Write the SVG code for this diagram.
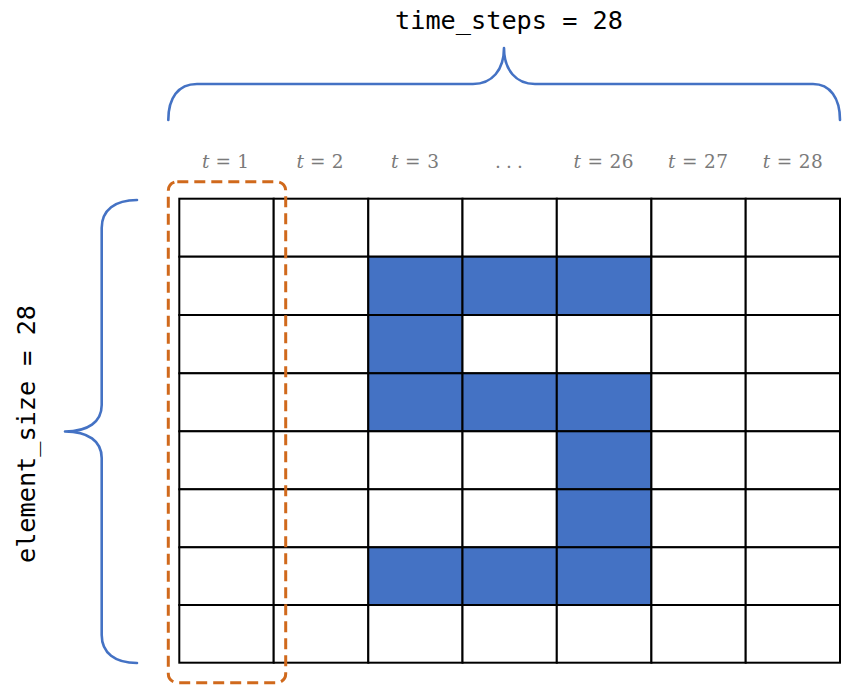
<svg xmlns="http://www.w3.org/2000/svg" width="852" height="700" viewBox="0 0 852 700">
  <style>
    .mono { font-family: "DejaVu Sans Mono", "Liberation Mono", monospace; font-size: 24px; fill: #000; }
    .tl { font-family: "DejaVu Serif", "Liberation Serif", serif; font-size: 18.5px; fill: #7a7a7a; text-anchor: middle; }
    .tl .v { font-style: italic; }
    .brace { fill: none; stroke: #4472C4; stroke-width: 2.6; stroke-linecap: round; stroke-linejoin: round; }
    .cell { fill: #ffffff; stroke: #000; stroke-width: 2; }
    .on { fill: #4472C4; }
    .sel { fill: none; stroke: #D0691C; stroke-width: 3; stroke-dasharray: 11 6; }
  </style>
  <rect width="852" height="700" fill="#ffffff"/>

  <g id="top-brace">
    <path class="brace" d="M168.3,120 C168.3,98 178,84 197,84 L473,84 C492,84 504,70 504,48 C504,70 516,84 535,84 L813,84 C830,84 840,98 840,120"/>
    <text class="mono" x="509" y="29" text-anchor="middle" textLength="228" lengthAdjust="spacingAndGlyphs">time_steps = 28</text>
  </g>

  <g id="left-brace">
    <path class="brace" d="M137,200 C115,200 101.7,210 101.7,228 L101.7,405 C101.7,422 88,431.5 65,431.5 C88,431.5 101.7,441 101.7,458 L101.7,635 C101.7,653 115,663 137,663"/>
    <text class="mono" transform="translate(35,434) rotate(-90)" x="0" y="0" text-anchor="middle" textLength="258" lengthAdjust="spacingAndGlyphs">element_size = 28</text>
  </g>

  <g id="labels">
    <text class="tl" x="225.5" y="168" textLength="47" lengthAdjust="spacing"><tspan class="v">t</tspan> = 1</text>
    <text class="tl" x="320" y="168" textLength="47" lengthAdjust="spacing"><tspan class="v">t</tspan> = 2</text>
    <text class="tl" x="415" y="168" textLength="48" lengthAdjust="spacing"><tspan class="v">t</tspan> = 3</text>
    <text class="tl" x="509" y="168" textLength="28" lengthAdjust="spacing">. . .</text>
    <text class="tl" x="603.5" y="168" textLength="60" lengthAdjust="spacing"><tspan class="v">t</tspan> = 26</text>
    <text class="tl" x="698" y="168" textLength="60" lengthAdjust="spacing"><tspan class="v">t</tspan> = 27</text>
    <text class="tl" x="792.7" y="168" textLength="60" lengthAdjust="spacing"><tspan class="v">t</tspan> = 28</text>
  </g>

  <g id="grid">
    <!-- row 0 -->
    <rect class="cell" x="179.3" y="198.7" width="94.4" height="58"/>
    <rect class="cell" x="273.7" y="198.7" width="94.6" height="58"/>
    <rect class="cell" x="368.3" y="198.7" width="94.2" height="58"/>
    <rect class="cell" x="462.5" y="198.7" width="94.3" height="58"/>
    <rect class="cell" x="556.8" y="198.7" width="94.6" height="58"/>
    <rect class="cell" x="651.4" y="198.7" width="94.3" height="58"/>
    <rect class="cell" x="745.7" y="198.7" width="94.3" height="58"/>
    <!-- row 1 -->
    <rect class="cell" x="179.3" y="256.7" width="94.4" height="58.3"/>
    <rect class="cell" x="273.7" y="256.7" width="94.6" height="58.3"/>
    <rect class="cell on" x="368.3" y="256.7" width="94.2" height="58.3"/>
    <rect class="cell on" x="462.5" y="256.7" width="94.3" height="58.3"/>
    <rect class="cell on" x="556.8" y="256.7" width="94.6" height="58.3"/>
    <rect class="cell" x="651.4" y="256.7" width="94.3" height="58.3"/>
    <rect class="cell" x="745.7" y="256.7" width="94.3" height="58.3"/>
    <!-- row 2 -->
    <rect class="cell" x="179.3" y="315" width="94.4" height="58.3"/>
    <rect class="cell" x="273.7" y="315" width="94.6" height="58.3"/>
    <rect class="cell on" x="368.3" y="315" width="94.2" height="58.3"/>
    <rect class="cell" x="462.5" y="315" width="94.3" height="58.3"/>
    <rect class="cell" x="556.8" y="315" width="94.6" height="58.3"/>
    <rect class="cell" x="651.4" y="315" width="94.3" height="58.3"/>
    <rect class="cell" x="745.7" y="315" width="94.3" height="58.3"/>
    <!-- row 3 -->
    <rect class="cell" x="179.3" y="373.3" width="94.4" height="58"/>
    <rect class="cell" x="273.7" y="373.3" width="94.6" height="58"/>
    <rect class="cell on" x="368.3" y="373.3" width="94.2" height="58"/>
    <rect class="cell on" x="462.5" y="373.3" width="94.3" height="58"/>
    <rect class="cell on" x="556.8" y="373.3" width="94.6" height="58"/>
    <rect class="cell" x="651.4" y="373.3" width="94.3" height="58"/>
    <rect class="cell" x="745.7" y="373.3" width="94.3" height="58"/>
    <!-- row 4 -->
    <rect class="cell" x="179.3" y="431.3" width="94.4" height="58"/>
    <rect class="cell" x="273.7" y="431.3" width="94.6" height="58"/>
    <rect class="cell" x="368.3" y="431.3" width="94.2" height="58"/>
    <rect class="cell" x="462.5" y="431.3" width="94.3" height="58"/>
    <rect class="cell on" x="556.8" y="431.3" width="94.6" height="58"/>
    <rect class="cell" x="651.4" y="431.3" width="94.3" height="58"/>
    <rect class="cell" x="745.7" y="431.3" width="94.3" height="58"/>
    <!-- row 5 -->
    <rect class="cell" x="179.3" y="489.3" width="94.4" height="58"/>
    <rect class="cell" x="273.7" y="489.3" width="94.6" height="58"/>
    <rect class="cell" x="368.3" y="489.3" width="94.2" height="58"/>
    <rect class="cell" x="462.5" y="489.3" width="94.3" height="58"/>
    <rect class="cell on" x="556.8" y="489.3" width="94.6" height="58"/>
    <rect class="cell" x="651.4" y="489.3" width="94.3" height="58"/>
    <rect class="cell" x="745.7" y="489.3" width="94.3" height="58"/>
    <!-- row 6 -->
    <rect class="cell" x="179.3" y="547.3" width="94.4" height="57.7"/>
    <rect class="cell" x="273.7" y="547.3" width="94.6" height="57.7"/>
    <rect class="cell on" x="368.3" y="547.3" width="94.2" height="57.7"/>
    <rect class="cell on" x="462.5" y="547.3" width="94.3" height="57.7"/>
    <rect class="cell on" x="556.8" y="547.3" width="94.6" height="57.7"/>
    <rect class="cell" x="651.4" y="547.3" width="94.3" height="57.7"/>
    <rect class="cell" x="745.7" y="547.3" width="94.3" height="57.7"/>
    <!-- row 7 -->
    <rect class="cell" x="179.3" y="605" width="94.4" height="57.7"/>
    <rect class="cell" x="273.7" y="605" width="94.6" height="57.7"/>
    <rect class="cell" x="368.3" y="605" width="94.2" height="57.7"/>
    <rect class="cell" x="462.5" y="605" width="94.3" height="57.7"/>
    <rect class="cell" x="556.8" y="605" width="94.6" height="57.7"/>
    <rect class="cell" x="651.4" y="605" width="94.3" height="57.7"/>
    <rect class="cell" x="745.7" y="605" width="94.3" height="57.7"/>
  </g>

  <g id="selection">
    <rect class="sel" x="168.3" y="181.7" width="117.4" height="501" rx="9" ry="9"/>
  </g>
</svg>
